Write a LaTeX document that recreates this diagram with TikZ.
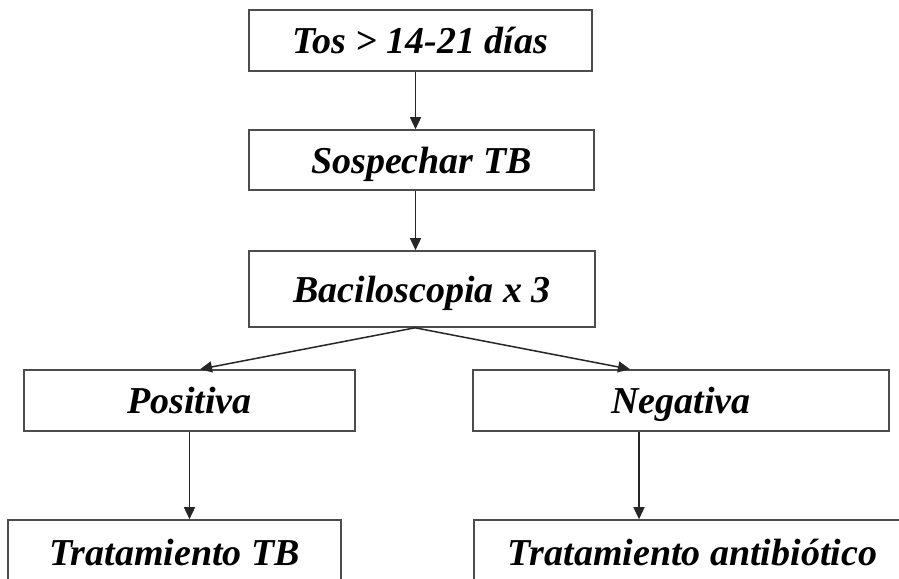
\documentclass[tikz,border=0pt]{standalone}
\usepackage{fontspec}
\setmainfont{Liberation Serif}
\usetikzlibrary{arrows.meta,calc}
\begin{document}
\begin{tikzpicture}[x=1pt,y=-1pt,
  box/.style={draw=black!70,line width=1.6pt,fill=white,inner sep=0pt,
    font=\fontsize{38}{40}\selectfont\bfseries\itshape,
    text height=26pt,text depth=0pt},
  arr/.style={draw=black!85,line width=1.5pt,-{Triangle[length=12pt,width=11pt]}}]
\useasboundingbox (0,0) rectangle (899,578);
\clip (0,0) rectangle (899,578);
\node[box,minimum width=343pt,minimum height=61pt] (b1) at (420.5,40.5) {Tos > 14-21 días};
\node[box,minimum width=345pt,minimum height=60pt] (b2) at (421.5,160) {Sospechar TB};
\node[box,minimum width=346pt,minimum height=76pt] (b3) at (422,289) {Baciloscopia x 3};
\node[box,minimum width=331pt,minimum height=61pt] (b4) at (189.5,400.5) {Positiva};
\node[box,minimum width=416pt,minimum height=61pt] (b5) at (681,400.5) {Negativa};
\node[box,minimum width=333pt,minimum height=64pt] (b6) at (174.5,552) {Tratamiento TB};
\node[box,minimum width=437pt,minimum height=64pt] (b7) at (692.5,552) {Tratamiento antibiótico};
\coordinate (apex) at ([xshift=-7pt]b3.south);
\draw[arr] ([xshift=-5pt]b1.south) -- ([xshift=-5pt]b1.south |- b2.north);
\draw[arr] ([xshift=-6pt]b2.south) -- ([xshift=-6pt]b2.south |- b3.north);
\draw[arr] (apex) -- ([xshift=10.5pt]b4.north);
\draw[arr] (apex) -- ([xshift=-51pt]b5.north);
\draw[arr] (b4.south) -- (b4.south |- b6.north);
\draw[arr] ([xshift=-42pt]b5.south) -- ([xshift=-42pt]b5.south |- b7.north);
\end{tikzpicture}
\end{document}
